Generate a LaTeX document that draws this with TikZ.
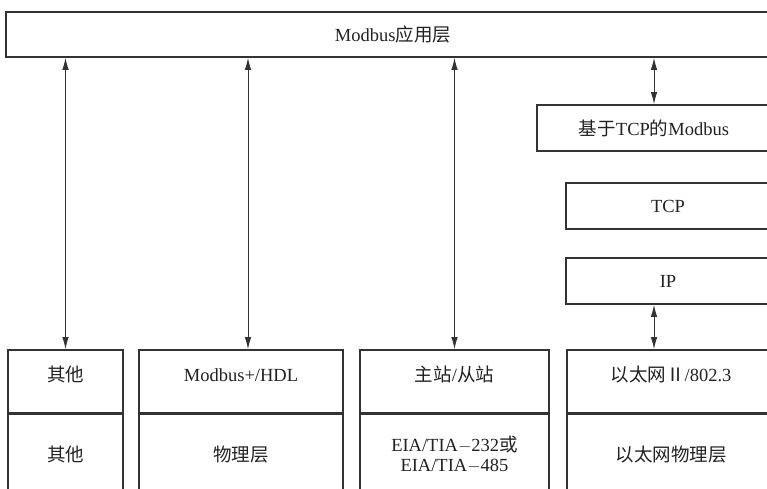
\documentclass[tikz,border=0pt]{standalone}
\usepackage{fontspec}
\setmainfont{Liberation Serif}
\newfontfamily\cjk{Noto Sans CJK SC}
\usetikzlibrary{arrows.meta}
\definecolor{linec}{HTML}{333333}
\definecolor{textc}{HTML}{222222}
\newcommand\uptext[1]{\raisebox{0pt}[0pt][0pt]{#1}}
\begin{document}
\begin{tikzpicture}[x=1pt,y=-1pt,
  box/.style={draw=linec, line width=1.6pt, inner sep=0pt, text=textc,
    font=\fontsize{18.5}{20}\selectfont, align=center},
  conn/.style={draw=linec, line width=1pt,
    {Latex[length=12pt,width=6.5pt]}-{Latex[length=12pt,width=6.5pt]}}]
\useasboundingbox (0,0) rectangle (767,488);
\clip (0,0) rectangle (767,488);
\fill[white] (0,0) rectangle (767,488);
% top
\node[box, minimum width=774pt, minimum height=45pt] (app) at (393,34.5) {Modbus{\cjk 应用层}};
% right stack
\node[box, minimum width=234pt, minimum height=46pt] (tcpmb) at (654,128) {{\cjk 基于}TCP{\cjk 的}Modbus};
\node[box, minimum width=204pt, minimum height=46pt] (tcp) at (668,206) {TCP};
\node[box, minimum width=204pt, minimum height=46pt] (ip) at (668,281) {IP};
% bottom columns
\node[box, minimum width=115pt, minimum height=63pt] (c1u) at (65.5,381.5) {\uptext{\cjk 其他}};
\node[box, minimum width=115pt, minimum height=79pt, anchor=north] (c1l) at (c1u.south) {\cjk 其他};
\node[box, minimum width=204pt, minimum height=63pt] (c2u) at (241,381.5) {\uptext{Modbus+/HDL}};
\node[box, minimum width=204pt, minimum height=79pt, anchor=north] (c2l) at (c2u.south) {\cjk 物理层};
\node[box, minimum width=189pt, minimum height=63pt] (c3u) at (454.5,381.5) {\uptext{{\cjk 主站}/{\cjk 从站}}};
\node[box, minimum width=189pt, minimum height=79pt, anchor=north] (c3l) at (c3u.south) {EIA/TIA$-$232{\cjk 或}\\EIA/TIA$-$485};
\node[box, minimum width=208pt, minimum height=63pt] (c4u) at (671,381.5) {\uptext{{\cjk 以太网Ⅱ}/802.3}};
\node[box, minimum width=208pt, minimum height=79pt, anchor=north] (c4l) at (c4u.south) {\cjk 以太网物理层};
% connectors
\coordinate (c2top) at ([xshift=7pt]c2u.north);
\draw[conn] (app.south -| c1u.north) -- (c1u.north);
\draw[conn] (app.south -| c2top) -- (c2top);
\draw[conn] (app.south -| c3u.north) -- (c3u.north);
\draw[conn] (app.south -| tcpmb.north) -- (tcpmb.north);
\draw[conn] (ip.south -| tcpmb.north) -- (c4u.north -| tcpmb.north);
\end{tikzpicture}
\end{document}
